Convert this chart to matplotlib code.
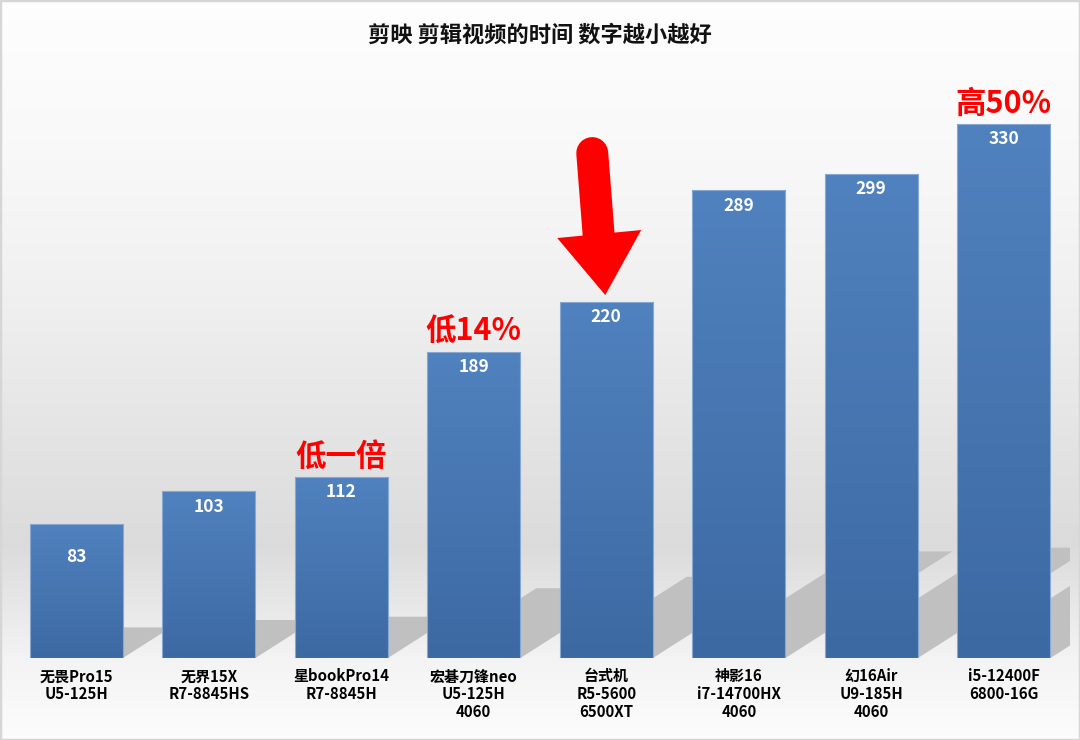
import numpy as np
import matplotlib
matplotlib.use("Agg")
import matplotlib.pyplot as plt
import matplotlib.transforms as mtransforms
from matplotlib.colors import LinearSegmentedColormap
from matplotlib.lines import Line2D
from matplotlib.patches import Polygon, Rectangle

plt.rcParams["font.family"] = ["Noto Sans CJK SC", "DejaVu Sans"]

# ============================================================
# DATA
# ============================================================

TITLE = "剪映 剪辑视频的时间 数字越小越好"

MODELS = ["无畏Pro15", "无界15X", "星bookPro14", "宏碁刀锋neo",
          "台式机", "神影16", "幻16Air", "i5-12400F"]
CPUS = ["U5-125H", "R7-8845HS", "R7-8845H", "U5-125H",
        "R5-5600", "i7-14700HX", "U9-185H", "6800-16G"]
GPUS = ["", "", "", "4060", "6500XT", "4060", "4060", ""]
SECONDS = [83, 103, 112, 189, 220, 289, 299, 330]

NOTES = {2: "低一倍", 3: "低14%", 7: "高50%"}
ARROW_BAR = 4

OUTPUT = "out.png"

# ============================================================
# FIGURE + BACKGROUND
# ============================================================

W, H = 1080, 740
fig = plt.figure(figsize=(W / 100, H / 100), dpi=100)

# wall/floor gradient, stops given as (pixel row from top, grey level)
stops_y = [0, 150, 300, 450, 545, 600, 658, 740]
stops_g = [0.995, 0.975, 0.94, 0.89, 0.86, 0.905, 0.955, 0.99]
rows = np.interp(np.arange(H), stops_y, stops_g)
rgb = np.repeat(np.repeat(rows[:, None, None], 3, axis=2), W, axis=1)
bg = fig.add_axes([0, 0, 1, 1], zorder=0)
bg.imshow(rgb, extent=(0, 1, 0, 1), aspect="auto", interpolation="nearest")
bg.axis("off")

# ============================================================
# AXES
# ============================================================

YMAX = 370
ax = fig.add_axes([10 / W, 82 / H, 1060 / W, YMAX * 1.618 / H], zorder=1)
ax.set_facecolor("none")

x = np.arange(len(SECONDS))
bar_w = 0.705

# perspective shadows behind each bar
rise = 0.228      # shadow height relative to bar height
slant = 0.00436   # sideways shift (categories) per unit of value
for xi, v in zip(x, SECONDS):
    x0 = xi - bar_w / 2
    sh = Polygon([(x0, 0), (x0 + bar_w, 0),
                  (x0 + bar_w + slant * v, rise * v), (x0 + slant * v, rise * v)],
                 closed=True, facecolor="#c0c0c0", edgecolor="none", zorder=2)
    ax.add_patch(sh)

bars = ax.bar(x, SECONDS, width=bar_w, facecolor="none",
              edgecolor="#86a8d3", linewidth=0.8, zorder=4)

bar_cmap = LinearSegmentedColormap.from_list("bar", ["#3d69a2", "#5082bf"])
grad = np.linspace(0, 1, 256)[:, None]
for bar, xi, v in zip(bars, x, SECONDS):
    im = ax.imshow(grad, cmap=bar_cmap, origin="lower", aspect="auto",
                   extent=(xi - bar_w / 2, xi + bar_w / 2, 0, v), zorder=3)
    im.set_clip_path(bar)

# value labels inside the bars
for i, v in enumerate(SECONDS):
    drop = -24 if i == 0 else -11
    ax.annotate(str(v), xy=(i, v), xytext=(0, drop), textcoords="offset points",
                ha="center", va="center", color="white",
                fontsize=12.5, fontweight="bold", zorder=5)

# red remarks above bars
for i, txt in NOTES.items():
    ax.annotate(txt, xy=(i, SECONDS[i]), xytext=(0, 3), textcoords="offset points",
                ha="center", va="bottom", color="#ff0000",
                fontsize=22, fontweight="bold", zorder=5)

# big red arrow pointing at the desktop bar (offsets in inches)
trans = fig.dpi_scale_trans + mtransforms.ScaledTranslation(
    ARROW_BAR, SECONDS[ARROW_BAR], ax.transData)
ax.add_line(Line2D([-0.14, -0.075], [1.49, 0.66], transform=trans,
                   color="#ff0000", lw=23, solid_capstyle="round", zorder=6))
ax.add_patch(Polygon([(-0.01, 0.07), (-0.49, 0.64), (0.35, 0.72)], closed=True,
                     transform=trans, facecolor="#ff0000", edgecolor="none", zorder=6))

labels = ["\n".join(s for s in (m, c, g) if s) for m, c, g in zip(MODELS, CPUS, GPUS)]
ax.set_xticks(x)
ax.set_xticklabels(labels, fontsize=10.8, fontweight="bold", linespacing=1.13)
ax.tick_params(axis="x", length=0, pad=7.5)
ax.set_yticks([])
for s in ax.spines.values():
    s.set_visible(False)

ax.set_xlim(-0.5, len(SECONDS) - 0.5)
ax.set_ylim(0, YMAX)

fig.text(0.5, 1 - 35 / H, TITLE, ha="center", va="center",
         fontsize=16, fontweight="bold", color="#111111")

fig.add_artist(Rectangle((0, 0), 1, 1, transform=fig.transFigure, fill=False,
                         edgecolor="#d6d6d6", lw=2.5))

fig.savefig(OUTPUT, dpi=100)
